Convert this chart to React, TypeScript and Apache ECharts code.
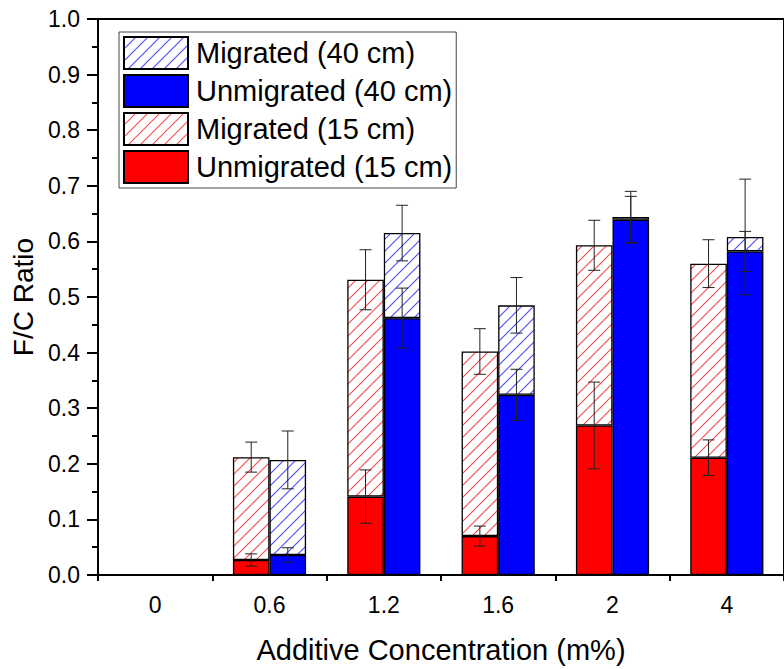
import React, { useEffect, useRef } from 'react';
import * as echarts from 'echarts';

const categories = ['0', '0.6', '1.2', '1.6', '2', '4'];
// top of each bar segment (stack top)
const unmigrated15 = [null, 0.027, 0.141, 0.070, 0.269, 0.211];
const migratedTop15 = [null, 0.212, 0.531, 0.402, 0.593, 0.560];
const unmigrated40 = [null, 0.036, 0.462, 0.324, 0.639, 0.582];
const migratedTop40 = [null, 0.207, 0.615, 0.485, 0.644, 0.608];
// error bar half-lengths
const errUnmigrated15 = [null, 0.011, 0.048, 0.018, 0.078, 0.032];
const errMigrated15 = [null, 0.027, 0.054, 0.041, 0.045, 0.043];
const errUnmigrated40 = [null, 0.013, 0.054, 0.046, 0.042, 0.036];
const errMigrated40 = [null, 0.052, 0.050, 0.050, 0.046, 0.104];

const FONT = '"Liberation Sans", Arial, sans-serif';

function makeHatch(color: string) {
  const s = 12;
  const c = document.createElement('canvas');
  c.width = s;
  c.height = s;
  const ctx = c.getContext('2d')!;
  ctx.fillStyle = '#ffffff';
  ctx.fillRect(0, 0, s, s);
  ctx.strokeStyle = color;
  ctx.lineWidth = 1.1;
  ctx.beginPath();
  ctx.moveTo(-1, s + 1);
  ctx.lineTo(s + 1, -1);
  ctx.moveTo(-2, 2);
  ctx.lineTo(2, -2);
  ctx.moveTo(s - 2, s + 2);
  ctx.lineTo(s + 2, s - 2);
  ctx.stroke();
  return { image: c, repeat: 'repeat', imageWidth: s, imageHeight: s } as any;
}

function diff(top: (number | null)[], base: (number | null)[]) {
  return top.map((t, i) => (t == null || base[i] == null ? '-' : +(t - (base[i] as number)).toFixed(4)));
}

function errSeries(tops: (number | null)[], errs: (number | null)[], side: number) {
  const data: number[][] = [];
  tops.forEach((t, i) => {
    if (t != null && errs[i] != null) data.push([i, t, errs[i] as number]);
  });
  return {
    type: 'custom',
    z: 10,
    silent: true,
    encode: { x: 0, y: 1 },
    data,
    renderItem: (params: any, api: any) => {
      const i = api.value(0);
      const v = api.value(1);
      const e = api.value(2);
      const band = api.size([1, 0])[0];
      const p = api.coord([i, v]);
      const x = p[0] + side * band * 0.16;
      const yTop = api.coord([i, v + e])[1];
      const yBot = api.coord([i, v - e])[1];
      const hw = 6;
      const style = { stroke: '#222', lineWidth: 1 };
      return {
        type: 'group',
        children: [
          { type: 'line', shape: { x1: x, y1: yTop, x2: x, y2: yBot }, style },
          { type: 'line', shape: { x1: x - hw, y1: yTop, x2: x + hw, y2: yTop }, style },
          { type: 'line', shape: { x1: x - hw, y1: yBot, x2: x + hw, y2: yBot }, style },
        ],
      };
    },
  };
}

export default function App() {
  const ref = useRef<HTMLDivElement>(null);
  useEffect(() => {
    if (!ref.current) return;
    const chart = echarts.init(ref.current, null, { renderer: 'svg' });
    const hatchRed = makeHatch('#ff4a4a');
    const hatchBlue = makeHatch('#4a4aff');
    const border = { borderColor: '#000', borderWidth: 1.3 };
    const option: any = {
      animation: false,
      backgroundColor: '#fff',
      textStyle: { fontFamily: FONT },
      grid: {
        left: 98,
        top: 19,
        right: -8,
        bottom: 90,
        show: true,
        borderColor: '#000',
        borderWidth: 2,
        backgroundColor: 'transparent',
      },
      legend: {
        orient: 'vertical',
        left: 119,
        top: 32,
        itemWidth: 64,
        itemHeight: 32,
        itemGap: 4,
        padding: 4,
        borderColor: '#444',
        borderWidth: 1,
        backgroundColor: '#fff',
        icon: 'rect',
        textStyle: { fontSize: 29, fontFamily: FONT, color: '#000', padding: [0, 0, 0, 3] },
        data: ['Migrated (40 cm)', 'Unmigrated (40 cm)', 'Migrated (15 cm)', 'Unmigrated (15 cm)'],
      },
      xAxis: [
        {
          type: 'category',
          data: categories,
          name: 'Additive Concentration (m%)',
          nameLocation: 'middle',
          nameGap: 60,
          nameTextStyle: { fontSize: 29, fontFamily: FONT, color: '#000' },
          axisLine: { lineStyle: { color: '#000', width: 2 } },
          axisTick: { alignWithLabel: true, length: 11, lineStyle: { color: '#000', width: 2 } },
          axisLabel: { fontSize: 23, fontFamily: FONT, color: '#000', margin: 18 },
          splitLine: { show: false },
        },
        {
          type: 'category',
          data: categories,
          position: 'bottom',
          axisLine: { show: false },
          axisTick: { show: true, length: 6, lineStyle: { color: '#000', width: 2 } },
          axisLabel: { show: false },
          splitLine: { show: false },
        },
      ],
      yAxis: {
        type: 'value',
        min: 0,
        max: 1,
        interval: 0.1,
        name: 'F/C Ratio',
        nameLocation: 'middle',
        nameGap: 56,
        nameTextStyle: { fontSize: 28, fontFamily: FONT, color: '#000' },
        axisLine: { show: true, lineStyle: { color: '#000', width: 2 } },
        axisTick: { show: true, length: 11, lineStyle: { color: '#000', width: 2 } },
        minorTick: { show: true, splitNumber: 2, length: 6, lineStyle: { color: '#000', width: 2 } },
        axisLabel: {
          fontSize: 23,
          fontFamily: FONT,
          color: '#000',
          margin: 18,
          formatter: (v: number) => v.toFixed(1),
        },
        splitLine: { show: false },
        minorSplitLine: { show: false },
      },
      series: [
        {
          name: 'Unmigrated (15 cm)',
          type: 'bar',
          stack: 's15',
          barWidth: '32%',
          barGap: '0%',
          data: unmigrated15.map((v) => (v == null ? '-' : v)),
          itemStyle: { color: '#ff0000', ...border },
        },
        {
          name: 'Migrated (15 cm)',
          type: 'bar',
          stack: 's15',
          barWidth: '32%',
          barGap: '0%',
          data: diff(migratedTop15, unmigrated15),
          itemStyle: { color: hatchRed, ...border },
        },
        {
          name: 'Unmigrated (40 cm)',
          type: 'bar',
          stack: 's40',
          barWidth: '32%',
          barGap: '0%',
          data: unmigrated40.map((v) => (v == null ? '-' : v)),
          itemStyle: { color: '#0000ff', ...border },
        },
        {
          name: 'Migrated (40 cm)',
          type: 'bar',
          stack: 's40',
          barWidth: '32%',
          barGap: '0%',
          data: diff(migratedTop40, unmigrated40),
          itemStyle: { color: hatchBlue, ...border },
        },
        errSeries(unmigrated15, errUnmigrated15, -1),
        errSeries(migratedTop15, errMigrated15, -1),
        errSeries(unmigrated40, errUnmigrated40, 1),
        errSeries(migratedTop40, errMigrated40, 1),
      ],
    };
    chart.setOption(option);
    return () => chart.dispose();
  }, []);
  return (
    <div
      ref={ref}
      style={{ position: 'fixed', left: 0, top: 0, width: 784, height: 669, overflow: 'hidden' }}
    />
  );
}
